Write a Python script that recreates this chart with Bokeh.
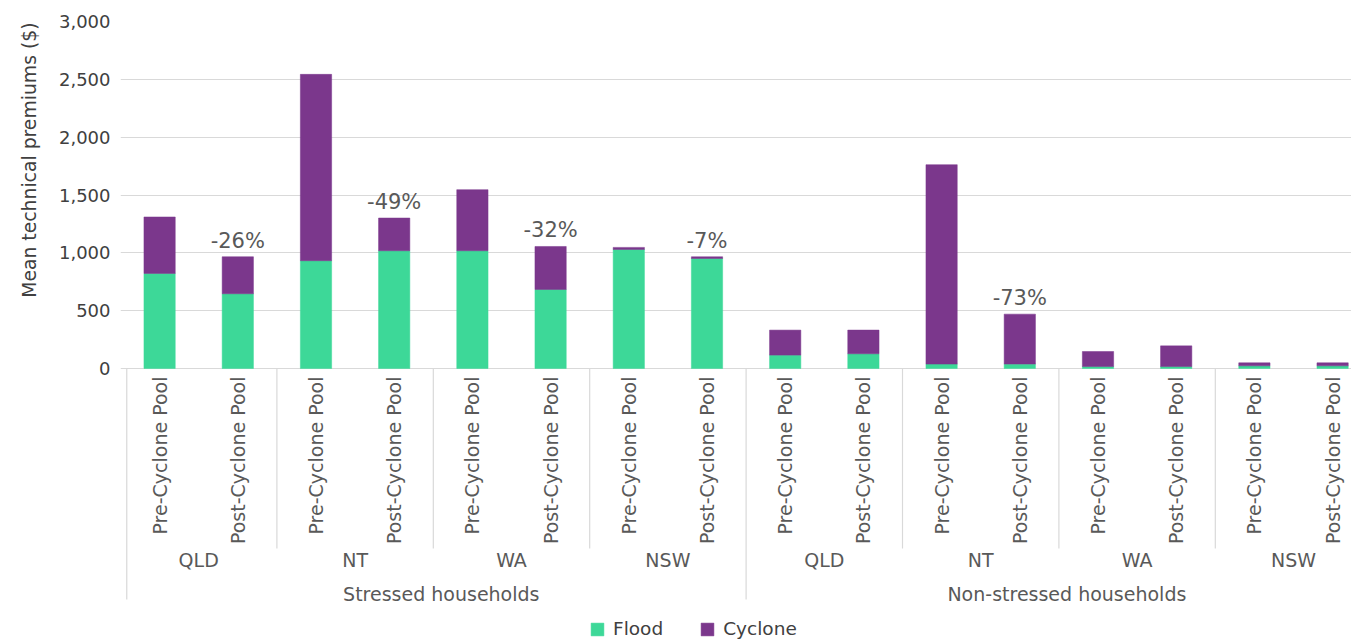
import math
from bokeh.plotting import figure
from bokeh.models import (ColumnDataSource, Range1d, FixedTicker, Title,
                          NumeralTickFormatter, LabelSet, Legend, LegendItem)
from bokeh.core.properties import value
from bokeh.embed import file_html
from bokeh.resources import INLINE

# ---------------- data ----------------
households = ["Stressed households", "Non-stressed households"]
states = ["QLD", "NT", "WA", "NSW"]
pools = ["Pre-Cyclone Pool", "Post-Cyclone Pool"]

flood = [822, 646, 932, 1018, 1018, 683, 1029, 951,
         116, 127, 38, 38, 17, 17, 23, 23]
cyclone = [488, 320, 1611, 283, 528, 372, 18, 15,
           216, 205, 1724, 432, 130, 179, 26, 26]
change_labels = ["", "-26%", "", "-49%", "", "-32%", "", "-7%",
                 "", "", "", "-73%", "", "", "", ""]
y_ticks = [0, 500, 1000, 1500, 2000, 2500, 3000]

# ---------------- style / layout ----------------
FLOOD_C = "#3dd898"
CYC_C = "#7b378c"
GRID_C = "#d9d9d9"
LABEL_C = "#595959"
DARK_C = "#404040"
FONT = "DejaVu Sans"

W, H = 1351, 639
TOP = 21            # frame top (canvas px)
ZERO_PX = 347       # px from frame top to y = 0
LEFT = 120
BAR_STEP = 78.2     # px per category slot
Y_MAX = y_ticks[-1]
FRAME_H = H - TOP
Y_MIN = -Y_MAX * (FRAME_H - ZERO_PX) / ZERO_PX
PX = Y_MAX / ZERO_PX  # data units per pixel (vertical)

n_pool = len(pools)
n_state = len(states)
n = len(households) * n_state * n_pool
xs = [i + 0.5 for i in range(n)]
X_END = (W - LEFT) / BAR_STEP
LEFT_SEP = 0.08

pool_names = [pools[i % n_pool] for i in range(n)]
totals = [f + c for f, c in zip(flood, cyclone)]

source = ColumnDataSource(dict(x=xs, flood=flood, cyclone=cyclone))

lab_idx = [i for i, t in enumerate(change_labels) if t]
lab_src = ColumnDataSource(dict(x=[xs[i] for i in lab_idx],
                                y=[totals[i] for i in lab_idx],
                                text=[change_labels[i] for i in lab_idx]))

p = figure(width=W, height=H, output_backend="svg", toolbar_location=None,
           x_range=Range1d(0, X_END), y_range=Range1d(Y_MIN, Y_MAX),
           x_axis_location=None,
           min_border_left=LEFT, min_border_right=0, min_border_top=TOP,
           min_border_bottom=0)
p.outline_line_color = None
p.background_fill_color = "white"
p.border_fill_color = "white"

# grid
p.ygrid.ticker = FixedTicker(ticks=y_ticks)
p.ygrid.grid_line_color = GRID_C
p.ygrid.grid_line_width = 1.2
p.xgrid.grid_line_color = None

# bars
r = p.vbar_stack(["flood", "cyclone"], x="x", width=0.4, source=source,
                 fill_color=[FLOOD_C, CYC_C], line_color=[FLOOD_C, CYC_C],
                 line_width=0.5)

# change labels
p.add_layout(LabelSet(x="x", y="y", text="text", source=lab_src, text_align="center",
                      text_baseline="alphabetic", y_offset=9, text_font=value(FONT),
                      text_font_size="21px", text_color=LABEL_C))

# y axis (ticks)
yax = p.yaxis[0]
yax.ticker = FixedTicker(ticks=y_ticks)
yax.formatter = NumeralTickFormatter(format="0,0")
yax.bounds = (0, Y_MAX)
yax.axis_line_color = None
yax.major_tick_out = 0
yax.major_tick_in = 0
yax.major_tick_line_color = None
yax.minor_tick_line_color = None
yax.minor_tick_out = 0
yax.minor_tick_in = 0
yax.major_label_standoff = 10
yax.major_label_text_font = FONT
yax.major_label_text_font_size = "18px"
yax.major_label_text_color = DARK_C

# y axis title, top-aligned like the reference
p.add_layout(Title(text="Mean technical premiums ($)", align="right", offset=1,
                   vertical_align="bottom", standoff=32, text_font=FONT,
                   text_font_size="18.8px", text_font_style="normal",
                   text_color=DARK_C), "left")

# multi-level category labels
cat_src = ColumnDataSource(dict(x=xs, y=[0] * n, text=pool_names))
p.add_layout(LabelSet(x="x", y="y", text="text", source=cat_src, angle=math.pi / 2,
                      text_align="right", text_baseline="middle", y_offset=-8,
                      text_font=value(FONT), text_font_size="19px", text_color=LABEL_C))

state_centers = [n_pool * k + n_pool / 2 for k in range(n // n_pool)]
state_names = [states[k % n_state] for k in range(n // n_pool)]
st_src = ColumnDataSource(dict(x=state_centers, y=[0] * len(state_centers), text=state_names))
p.add_layout(LabelSet(x="x", y="y", text="text", source=st_src, text_align="center",
                      text_baseline="middle", y_offset=-191,
                      text_font=value(FONT), text_font_size="19px", text_color=LABEL_C))

hh_centers = [n_pool * n_state * (k + 0.5) for k in range(len(households))]
hh_src = ColumnDataSource(dict(x=hh_centers, y=[0] * len(hh_centers), text=households))
p.add_layout(LabelSet(x="x", y="y", text="text", source=hh_src, text_align="center",
                      text_baseline="middle", y_offset=-225, x_offset=8,
                      text_font=value(FONT), text_font_size="19px", text_color=LABEL_C))

# separators
state_bounds = [n_pool * k for k in range(1, n // n_pool) if (n_pool * k) % (n_pool * n_state)]
hh_bounds = [LEFT_SEP] + [n_pool * n_state * k for k in range(1, len(households))]
p.segment(x0=state_bounds, x1=state_bounds, y0=[0] * len(state_bounds),
          y1=[-180 * PX] * len(state_bounds), line_color=GRID_C, line_width=1.2)
p.segment(x0=hh_bounds, x1=hh_bounds, y0=[0] * len(hh_bounds),
          y1=[-231 * PX] * len(hh_bounds), line_color=GRID_C, line_width=1.2)

# legend
legend = Legend(items=[LegendItem(label="Flood", renderers=[r[0]]),
                       LegendItem(label="Cyclone", renderers=[r[1]])],
                orientation="horizontal", location=(469, 0),
                glyph_width=16, glyph_height=16, label_standoff=8, spacing=36,
                padding=0, margin=0, border_line_color=None,
                background_fill_alpha=0, label_text_font=FONT,
                label_text_font_size="18.5px", label_text_color=DARK_C)
p.add_layout(legend, "center")

open("out.html", "w").write(file_html(p, INLINE))
